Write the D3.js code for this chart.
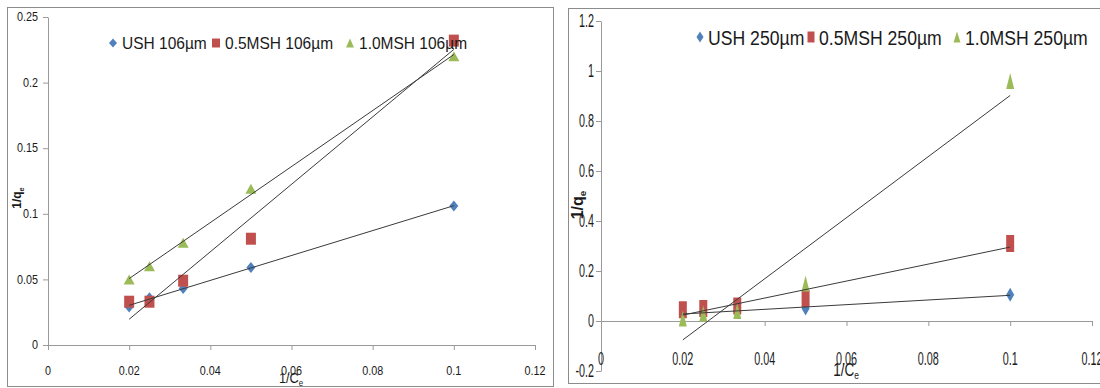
<!DOCTYPE html>
<html>
<head>
<meta charset="utf-8">
<script src="https://cdn.jsdelivr.net/npm/d3@7"></script>
<style>
  html, body { margin: 0; padding: 0; background: #fff; }
  svg { display: block; }
  text { fill: #1a1a1a; }
</style>
</head>
<body>
<svg id="chart" width="1100" height="388"></svg>
<script>
// Reciprocal Langmuir plots: 1/qe against 1/Ce for two particle sizes
const invCe = [0.02, 0.025, 0.0333, 0.05, 0.1];

const series106 = ["USH 106µm", "0.5MSH 106µm", "1.0MSH 106µm"];
const ush106 = [0.029, 0.036, 0.043, 0.059, 0.106];
const msh05_106 = [0.033, 0.033, 0.049, 0.081, 0.232];
const msh10_106 = [0.050, 0.060, 0.078, 0.119, 0.220];

const series250 = ["USH 250µm", "0.5MSH 250µm", "1.0MSH 250µm"];
const ush250 = [0.030, 0.035, 0.040, 0.050, 0.105];
const msh05_250 = [0.045, 0.050, 0.060, 0.090, 0.310];
const msh10_250 = [0.010, 0.030, 0.040, 0.150, 0.960];

const xTicks = [0, 0.02, 0.04, 0.06, 0.08, 0.1, 0.12];
const yTicks106 = [0, 0.05, 0.1, 0.15, 0.2, 0.25];
const yTicks250 = [-0.2, 0, 0.2, 0.4, 0.6, 0.8, 1, 1.2];

const colors = ["#4F81BD", "#C0504D", "#9BBB59"];
const shapes = ["diamond", "square", "triangle"];

const FONT = "Liberation Sans, Arial, sans-serif";

const svg = d3.select("#chart");

// marker path of a given width and height
function markerPath(shape, w, h) {
  if (shape === "diamond") return `M0,${-h/2}L${w/2},0L0,${h/2}L${-w/2},0Z`;
  if (shape === "square") return `M${-w/2},${-h/2}h${w}v${h}h${-w}Z`;
  return `M0,${-h/2}L${w/2},${h/2}L${-w/2},${h/2}Z`;
}

// least-squares straight line through the points
function linearFit(xs, ys) {
  const mx = d3.mean(xs), my = d3.mean(ys);
  let sxy = 0, sxx = 0;
  xs.forEach((x, i) => { sxy += (x - mx) * (ys[i] - my); sxx += (x - mx) ** 2; });
  const slope = sxy / sxx;
  return { slope, intercept: my - slope * mx };
}

function fmt(v) {
  if (v === 0) return "0";
  return String(+v.toFixed(3));
}

function drawPanel(cfg) {
  const g = svg.append("g");
  g.append("rect")
    .attr("x", cfg.frame[0]).attr("y", cfg.frame[1])
    .attr("width", cfg.frame[2]).attr("height", cfg.frame[3])
    .attr("fill", "#fff").attr("stroke", "#8c8c8c").attr("stroke-width", 1);

  const x = d3.scaleLinear().domain([0, 0.12]).range(cfg.xRange);
  const y = d3.scaleLinear().domain(cfg.yDomain).range(cfg.yRange);

  // y axis
  const yAxis = g.append("g")
    .attr("transform", `translate(${cfg.xRange[0]},0)`)
    .call(d3.axisLeft(y).tickValues(cfg.yTicks).tickSize(5).tickSizeOuter(0).tickFormat(() => ""));
  yAxis.select(".domain").attr("stroke", "#9a9a9a");
  yAxis.selectAll(".tick line").attr("stroke", "#9a9a9a");

  // x axis along y = 0
  const xAxis = g.append("g")
    .attr("transform", `translate(0,${y(0)})`)
    .call(d3.axisBottom(x).tickValues(xTicks).tickSize(5).tickSizeOuter(0).tickFormat(() => ""));
  xAxis.select(".domain").attr("stroke", "#9a9a9a");
  xAxis.selectAll(".tick line").attr("stroke", "#9a9a9a");

  // tick labels
  cfg.yTicks.forEach(t => {
    g.append("text")
      .attr("transform", `translate(${cfg.yLabelX},${y(t)}) scale(${cfg.tickScaleX},1)`)
      .attr("text-anchor", "end").attr("dominant-baseline", "central")
      .attr("font-family", FONT).attr("font-size", cfg.tickSize)
      .text(fmt(t));
  });
  xTicks.forEach(t => {
    g.append("text")
      .attr("transform", `translate(${x(t)},${cfg.xLabelY}) scale(${cfg.tickScaleX},1)`)
      .attr("text-anchor", "middle")
      .attr("font-family", FONT).attr("font-size", cfg.tickSize)
      .text(fmt(t));
  });

  // axis titles
  const yt = g.append("text")
    .attr("transform", `translate(${cfg.yTitle[0]},${cfg.yTitle[1]}) rotate(-90)`)
    .attr("text-anchor", "middle").attr("font-family", FONT)
    .attr("font-weight", "bold").attr("font-size", cfg.yTitleSize);
  yt.append("tspan").text("1/q");
  yt.append("tspan").attr("font-size", cfg.yTitleSize * 0.62).attr("dy", 3).text("e");

  const xt = g.append("text")
    .attr("transform", `translate(${cfg.xTitle[0]},${cfg.xTitle[1]}) scale(${cfg.xTitleScale},1)`)
    .attr("text-anchor", "middle").attr("font-family", FONT)
    .attr("font-size", cfg.xTitleSize);
  xt.append("tspan").text("1/C");
  xt.append("tspan").attr("font-size", cfg.xTitleSize * 0.62).attr("dy", 3).text("e");

  // markers
  cfg.data.forEach((vals, si) => {
    g.append("g").selectAll("path")
      .data(vals.map((v, i) => [invCe[i], v]))
      .join("path")
      .attr("transform", d => `translate(${x(d[0])},${y(d[1])})`)
      .attr("d", markerPath(shapes[si], cfg.markerSize[si][0], cfg.markerSize[si][1]))
      .attr("fill", colors[si]);
  });

  // linear trendlines over the measured range
  cfg.data.forEach(vals => {
    const f = linearFit(invCe, vals);
    const x0 = d3.min(invCe), x1 = d3.max(invCe);
    g.append("line")
      .attr("x1", x(x0)).attr("y1", y(f.intercept + f.slope * x0))
      .attr("x2", x(x1)).attr("y2", y(f.intercept + f.slope * x1))
      .attr("stroke", "#3a3a3a").attr("stroke-width", 1);
  });

  // legend
  cfg.names.forEach((name, i) => {
    const lx = cfg.legend.x[i];
    g.append("path")
      .attr("transform", `translate(${lx},${cfg.legend.y})`)
      .attr("d", markerPath(shapes[i], cfg.legend.mark[0], cfg.legend.mark[1]))
      .attr("fill", colors[i]);
    g.append("text")
      .attr("transform", `translate(${lx + cfg.legend.gap},${cfg.legend.y}) scale(${cfg.legend.scaleX},1)`)
      .attr("dominant-baseline", "central")
      .attr("font-family", FONT).attr("font-size", cfg.legend.size)
      .text(name);
  });
}

drawPanel({
  frame: [7.5, 7.5, 546, 379],
  xRange: [48, 535],
  yDomain: [0, 0.25],
  yRange: [345, 17],
  yTicks: yTicks106,
  tickSize: 12,
  tickScaleX: 0.9,
  yLabelX: 38,
  xLabelY: 375,
  yTitle: [21, 198],
  yTitleSize: 12,
  xTitle: [291, 383],
  xTitleSize: 15,
  xTitleScale: 0.85,
  data: [ush106, msh05_106, msh10_106],
  names: series106,
  markerSize: [[9, 11], [10, 12], [11, 10]],
  legend: { x: [113, 216, 350], y: 43, gap: 9, mark: [8, 9], size: 16, scaleX: 0.97 }
});

drawPanel({
  frame: [568.5, 8.5, 540, 375],
  xRange: [601, 1092],
  yDomain: [-0.2, 1.2],
  yRange: [371, 21],
  yTicks: yTicks250,
  tickSize: 18,
  tickScaleX: 0.6,
  yLabelX: 594,
  xLabelY: 365,
  yTitle: [583, 205],
  yTitleSize: 16,
  xTitle: [846, 376],
  xTitleSize: 18,
  xTitleScale: 0.75,
  data: [ush250, msh05_250, msh10_250],
  names: series250,
  markerSize: [[8, 14], [8, 17], [8, 16]],
  legend: { x: [700, 811, 957], y: 37, gap: 8, mark: [7, 11], size: 21, scaleX: 0.84 }
});
</script>
</body>
</html>
